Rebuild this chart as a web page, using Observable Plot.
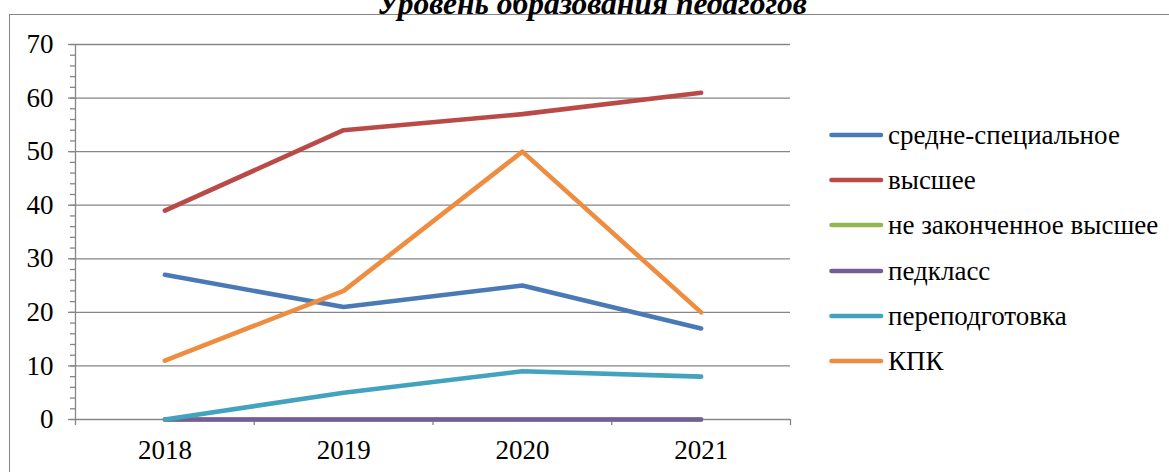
<!DOCTYPE html>
<html>
<head>
<meta charset="utf-8">
<script src="https://cdn.jsdelivr.net/npm/d3@7"></script>
<script src="https://cdn.jsdelivr.net/npm/@observablehq/plot@0.6"></script>
<style>
  html, body { margin: 0; padding: 0; background: #fff; overflow: hidden; }
  #wrap { position: relative; width: 1169px; height: 472px; overflow: hidden; font-family: "Liberation Serif", "Times New Roman", serif; }
  #frame { position: absolute; left: 9px; top: 14px; width: 1300px; height: 600px; border: 1.5px solid #868686; box-sizing: border-box; }
  #title { position: absolute; left: 0; width: 1184px; top: -12.5px; text-align: center; font: italic bold 31.5px/31.5px "Liberation Serif", "Times New Roman", serif; color: #000; white-space: nowrap; }
  #chart { position: absolute; left: 0; top: 0; }
  #legend { position: absolute; left: 829px; top: 0; }
  .row { position: absolute; left: 0; height: 30px; white-space: nowrap; font-size: 27px; font-family: "Liberation Serif", "Times New Roman", serif; color: #000; }
  .row svg { position: absolute; left: 0; top: 0; }
  .row span { position: absolute; left: 59px; }
</style>
</head>
<body>
<div id="wrap">
  <div id="frame"></div>
  <div id="chart"></div>
  <div id="legend"></div>
  <div id="title">Уровень образования педагогов</div>
</div>
<script>
const years = [2018, 2019, 2020, 2021];
const seriesNames = ["средне-специальное", "высшее", "не законченное высшее", "педкласс", "переподготовка", "КПК"];
const seriesColors = ["#4A7AB6", "#BA4A47", "#94B652", "#765D9A", "#43A3BE", "#EE8D40"];
const srednee = [27, 21, 25, 17];
const vysshee = [39, 54, 57, 61];
const nezakonch = [0, 0, 0, 0];
const pedklass = [0, 0, 0, 0];
const perepodg = [0, 5, 9, 8];
const kpk = [11, 24, 50, 20];
const yTicks = [0, 10, 20, 30, 40, 50, 60, 70];
const yMinorTicks = d3.range(0, 71, 2);
const xBounds = [2017.5, 2018.5, 2019.5, 2020.5, 2021.5];

const seriesValues = [srednee, vysshee, nezakonch, pedklass, perepodg, kpk];
const rows = [];
seriesNames.forEach((name, i) => {
  years.forEach((yr, j) => rows.push({series: name, year: yr, value: seriesValues[i][j]}));
});

const grid = "#868686";
const lineMarks = seriesNames.map((name, i) =>
  Plot.line(rows.filter(d => d.series === name), {
    x: "year", y: "value", stroke: seriesColors[i], strokeWidth: 4.6,
    strokeLinecap: "round", strokeLinejoin: "round"
  })
);

const chart = Plot.plot({
  width: 1169,
  height: 472,
  marginLeft: 75,
  marginRight: 379,
  marginTop: 44,
  marginBottom: 53,
  style: { fontFamily: "'Liberation Serif', 'Times New Roman', serif", fontSize: "27px", color: "#000", background: "transparent", overflow: "visible" },
  x: { domain: [2017.5, 2021.5], label: null },
  y: { domain: [0, 70], label: null },
  marks: [
    Plot.ruleY(yTicks.filter(t => t > 0), { stroke: grid, strokeWidth: 1.3 }),
    Plot.ruleY([0], { stroke: grid, strokeWidth: 1.3 }),
    Plot.ruleX([xBounds[0]], { y1: 0, y2: 70, stroke: grid, strokeWidth: 1.3 }),
    Plot.axisY({ ticks: yMinorTicks, tickSize: 5, tickFormat: () => "", stroke: grid, strokeWidth: 1.3, label: null }),
    Plot.axisY({ ticks: yTicks, tickSize: 7, tickPadding: 15, tickFormat: d => String(d), stroke: grid, strokeWidth: 1.3, fill: "#000", fontSize: 27, label: null }),
    Plot.axisX({ ticks: xBounds, tickSize: 6, tickFormat: () => "", stroke: grid, strokeWidth: 1.3, label: null }),
    Plot.axisX({ ticks: years, tickSize: 0, tickPadding: 20, tickFormat: d => String(d), fill: "#000", fontSize: 27, label: null }),
    ...lineMarks
  ]
});
document.getElementById("chart").appendChild(chart);

const legend = document.getElementById("legend");
seriesNames.forEach((name, i) => {
  const lineY = 135 + 45.2 * i;
  const row = document.createElement("div");
  row.className = "row";
  row.style.top = (lineY - 15) + "px";
  row.innerHTML = `<svg width="56" height="30"><line x1="2.5" x2="52" y1="15" y2="15" stroke="${seriesColors[i]}" stroke-width="4.6" stroke-linecap="round"/></svg><span style="top:${15 + 11 - 24}px;line-height:27px">${name}</span>`;
  legend.appendChild(row);
});
</script>
</body>
</html>
